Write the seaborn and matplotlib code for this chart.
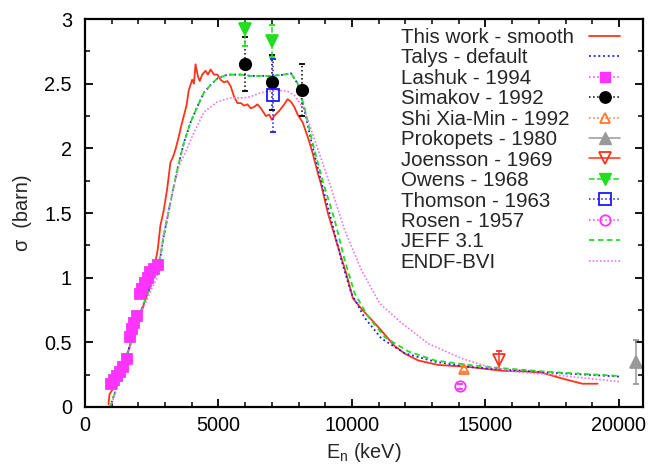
import numpy as np
import pandas as pd
import matplotlib
matplotlib.use("Agg")
import matplotlib.pyplot as plt
import seaborn as sns
from matplotlib.lines import Line2D
from matplotlib.transforms import Bbox
from matplotlib.ticker import MultipleLocator, FuncFormatter

# ---------------- data ----------------
work_E = [880, 920, 1066, 1317, 1631, 1882, 2133, 2384, 2600, 2722, 2822, 2948, 3074, 3199, 3290,
          3387, 3512, 3600, 3700, 3800, 3888, 4013, 4080, 4140, 4226, 4300, 4390, 4516, 4603, 4705,
          4830, 4956, 5081, 5205, 5332, 5457, 5582, 5708, 5834, 5960, 6085, 6210, 6335, 6461, 6586,
          6775, 6900, 7000, 7087, 7275, 7463, 7589, 7715, 7840, 7966, 8154, 8342, 8530, 8718, 8845,
          9096, 9473, 9785, 10036, 10350, 10975, 11603, 12000, 12480, 13236, 14366, 15620, 16500,
          17125, 17877, 18630, 19195]
work_s = [0.02, 0.10, 0.145, 0.26, 0.44, 0.60, 0.75, 0.905, 1.08, 1.215, 1.40, 1.52, 1.68, 1.89, 1.93,
          1.99, 2.09, 2.17, 2.25, 2.33, 2.45, 2.53, 2.50, 2.65, 2.56, 2.52, 2.57, 2.60, 2.57, 2.61,
          2.57, 2.57, 2.53, 2.51, 2.52, 2.48, 2.40, 2.35, 2.35, 2.33, 2.34, 2.31, 2.32, 2.34, 2.31,
          2.25, 2.26, 2.22, 2.25, 2.29, 2.34, 2.38, 2.36, 2.32, 2.26, 2.20, 2.09, 1.96, 1.81, 1.72,
          1.50, 1.24, 1.03, 0.84, 0.76, 0.62, 0.47, 0.41, 0.36, 0.325, 0.31, 0.28, 0.275,
          0.265, 0.22, 0.18, 0.18]

talys_E = [940, 1250, 1631, 2006, 2510, 2822, 2948, 3199, 3450, 3700, 3952, 4203, 4453, 4705, 4956,
           5332, 5834, 6210, 6963, 7463, 7715, 7966, 8216, 8468, 8718, 8900, 9221, 9597, 9973,
           10474, 11100, 11980, 13110, 14366, 15620, 17500, 20010]
talys_s = [0.0, 0.19, 0.44, 0.70, 0.96, 1.16, 1.32, 1.58, 1.83, 2.04, 2.20, 2.32, 2.43, 2.49, 2.54,
           2.57, 2.57, 2.56, 2.56, 2.57, 2.58, 2.50, 2.30, 2.06, 1.85, 1.70, 1.45, 1.14, 0.88,
           0.69, 0.53, 0.415, 0.35, 0.31, 0.29, 0.265, 0.235]

jeff_E = [940, 1250, 1631, 2006, 2510, 2822, 2948, 3199, 3450, 3700, 3952, 4203, 4453, 4705, 4956,
          5332, 5834, 6210, 6963, 7463, 7715, 7966, 8216, 8468, 8718, 8900, 9346, 9722, 10098,
          10600, 11227, 12107, 13110, 14366, 15620, 17500, 20010]
jeff_s = [0.0, 0.19, 0.44, 0.70, 0.96, 1.16, 1.32, 1.58, 1.83, 2.04, 2.20, 2.32, 2.43, 2.49, 2.54,
          2.57, 2.57, 2.56, 2.56, 2.57, 2.58, 2.50, 2.32, 2.09, 1.89, 1.75, 1.45, 1.14, 0.88,
          0.70, 0.54, 0.43, 0.36, 0.325, 0.30, 0.27, 0.24]

endf_E = [960, 1631, 2006, 2510, 2697, 2885, 3074, 3262, 3512, 3826, 4076, 4453, 4956, 5457, 5959,
          6210, 6586, 7213, 7589, 7840, 8216, 8593, 9096, 9722, 10350, 11040, 11855, 12857, 14114,
          15118, 16247, 17500, 20010]
endf_s = [0.0, 0.42, 0.68, 0.92, 1.00, 1.27, 1.47, 1.65, 1.86, 2.00, 2.12, 2.28, 2.36, 2.39, 2.39,
          2.40, 2.43, 2.45, 2.44, 2.41, 2.30, 2.07, 1.77, 1.37, 1.06, 0.80, 0.65, 0.49, 0.375,
          0.31, 0.27, 0.25, 0.196]

lashuk_E = [967, 1070, 1180, 1300, 1420, 1556, 1670, 1750, 1850, 1932, 2044, 2150, 2250, 2350,
            2450, 2600, 2720]
lashuk_s = [0.18, 0.21, 0.24, 0.27, 0.31, 0.37, 0.54, 0.60, 0.65, 0.70, 0.87, 0.91, 0.96, 1.00,
            1.04, 1.07, 1.10]
lashuk_err = [0.02] * 17

simakov_E = [5984, 7000, 8117]
simakov_s = [2.65, 2.51, 2.45]
simakov_err = [0.21, 0.21, 0.20]

shi_E = [14213]
shi_s = [0.29]
shi_err = [0.02]

prokopets_E = [20620]
prokopets_s = [0.345]
prokopets_err = [0.17]

joensson_E = [15519]
joensson_s = [0.36]
joensson_err = [0.075]

owens_E = [5997, 6988]
owens_s = [2.92, 2.83]
owens_err = [0.13, 0.12]

thomson_E = [7025]
thomson_s = [2.41]
thomson_err = [0.28]

rosen_E = [14052]
rosen_s = [0.16]
rosen_err = [0.02]

legend_labels = ["This work - smooth", "Talys - default", "Lashuk - 1994", "Simakov - 1992",
                 "Shi Xia-Min - 1992", "Prokopets - 1980", "Joensson - 1969", "Owens - 1968",
                 "Thomson - 1963", "Rosen - 1957", "JEFF 3.1", "ENDF-BVI"]

# ---------------- style ----------------
sns.set_theme(style="ticks")
plt.rcParams["font.family"] = ["Liberation Sans", "DejaVu Sans"]
plt.rcParams["mathtext.fontset"] = "custom"
plt.rcParams["mathtext.rm"] = "Liberation Sans"
plt.rcParams["mathtext.it"] = "Liberation Sans:italic"
plt.rcParams["axes.linewidth"] = 1.5
FS = 14.3
FS_LEG = 14.8

C_RED = "#ff3319"
C_BLUE = "#1a1aff"
C_MAG = "#ff33ff"
C_ORANGE = "#ff7733"
C_GRAY = "#999999"
C_GREEN = "#22dd22"
C_ENDF = "#ee77ee"

fig = plt.figure(figsize=(6.5, 4.68), dpi=100)
ax = fig.add_axes([85 / 650, 61 / 468, 558 / 650, 388 / 468])

# curves
sns.lineplot(x=work_E, y=work_s, ax=ax, color=C_RED, lw=1.3, estimator=None, sort=False)
sns.lineplot(x=talys_E, y=talys_s, ax=ax, color=C_BLUE, lw=1.3, linestyle=(0, (1, 1.6)),
             estimator=None, sort=False)


def pts(E, s, err, color, marker, ms, filled, ls):
    mfc = color if filled else "none"
    d, caps, bars = ax.errorbar(E, s, yerr=err, fmt=marker, ms=ms, mfc=mfc, mec=color,
                                mew=1.3, color=color, ecolor=color, elinewidth=1.1,
                                capsize=2.2, capthick=1.1)
    for b in bars:
        b.set_linestyle(ls)


pts(lashuk_E, lashuk_s, lashuk_err, C_MAG, "s", 7.2, True, ":")
pts(simakov_E, simakov_s, simakov_err, "black", "o", 8.2, True, ":")
pts(shi_E, shi_s, shi_err, C_ORANGE, "^", 7.5, False, ":")
pts(prokopets_E, prokopets_s, prokopets_err, C_GRAY, "^", 8, True, "-")
pts(joensson_E, joensson_s, joensson_err, C_RED, "v", 8, False, "-")
pts(owens_E, owens_s, owens_err, C_GREEN, "v", 8.5, True, "--")
pts(thomson_E, thomson_s, thomson_err, C_BLUE, "s", 8.5, False, ":")
pts(rosen_E, rosen_s, rosen_err, C_MAG, "o", 7.5, False, ":")

sns.lineplot(x=jeff_E, y=jeff_s, ax=ax, color=C_GREEN, lw=1.3, linestyle=(0, (3, 2)),
             estimator=None, sort=False)
sns.lineplot(x=endf_E, y=endf_s, ax=ax, color=C_ENDF, lw=1.2, linestyle=(0, (1, 1.2)),
             estimator=None, sort=False)

# axes
ax.set_xlim(0, 20900)
ax.set_ylim(0, 3)
ax.xaxis.set_major_locator(MultipleLocator(5000))
ax.xaxis.set_minor_locator(MultipleLocator(1000))
ax.yaxis.set_major_locator(MultipleLocator(0.5))
ax.yaxis.set_minor_locator(MultipleLocator(0.25))
ax.xaxis.set_major_formatter(FuncFormatter(lambda v, p: f"{v:g}"))
ax.yaxis.set_major_formatter(FuncFormatter(lambda v, p: f"{v:g}"))
ax.tick_params(which="both", direction="in", top=True, right=True, colors="black")
ax.tick_params(which="major", length=5.8, width=1.3, labelsize=FS)
ax.tick_params(which="minor", length=3.4, width=1.1)
ax.tick_params(axis="x", which="major", pad=6.5)
ax.tick_params(axis="y", which="major", pad=9.4)
for sp in ax.spines.values():
    sp.set_color("black")
    sp.set_linewidth(1.6)
ax.set_xlabel(r"E$_\mathrm{n}$ (keV)", fontsize=FS, labelpad=4)
ax.set_ylabel("σ  (barn)", fontsize=FS, labelpad=9)

# legend
handles = [
    Line2D([], [], color=C_RED, lw=1.3),
    Line2D([], [], color=C_BLUE, lw=1.3, ls=(0, (1, 1.6))),
    Line2D([], [], color=C_MAG, lw=1.1, ls=":", marker="s", ms=7.2, mfc=C_MAG, mec=C_MAG),
    Line2D([], [], color="black", lw=1.1, ls=":", marker="o", ms=8.2, mfc="black", mec="black"),
    Line2D([], [], color=C_ORANGE, lw=1.1, ls=":", marker="^", ms=7.5, mfc="none", mec=C_ORANGE, mew=1.3),
    Line2D([], [], color=C_GRAY, lw=1.1, ls="-", marker="^", ms=8, mfc=C_GRAY, mec=C_GRAY),
    Line2D([], [], color=C_RED, lw=1.1, ls="-", marker="v", ms=8, mfc="none", mec=C_RED, mew=1.3),
    Line2D([], [], color=C_GREEN, lw=1.1, ls="--", marker="v", ms=8.5, mfc=C_GREEN, mec=C_GREEN),
    Line2D([], [], color=C_BLUE, lw=1.1, ls=":", marker="s", ms=8.5, mfc="none", mec=C_BLUE, mew=1.3),
    Line2D([], [], color=C_MAG, lw=1.1, ls=":", marker="o", ms=7.5, mfc="none", mec=C_MAG, mew=1.3),
    Line2D([], [], color=C_GREEN, lw=1.3, ls=(0, (3, 2))),
    Line2D([], [], color=C_ENDF, lw=1.2, ls=(0, (1, 1.2))),
]
leg = ax.legend(handles, legend_labels, loc="upper right",
                bbox_to_anchor=(620 / 650, 1 - 28 / 468), bbox_transform=fig.transFigure,
                frameon=False, markerfirst=False, handlelength=1.5, handletextpad=0.75,
                labelspacing=0.07, borderpad=0, borderaxespad=0, fontsize=FS_LEG, numpoints=1)

# make the text column left aligned (gnuplot style key)
col = leg._legend_handle_box.get_children()[0]
tas = [it.get_children()[0] for it in col.get_children()]
orig_bb = [ta.get_bbox for ta in tas]


def make_bb(og):
    def gb(renderer):
        bb = og(renderer)
        W = max(o(renderer).width for o in orig_bb)
        return Bbox.from_bounds(bb.x0, bb.y0, W, bb.height)
    return gb


for ta, og in zip(tas, orig_bb):
    ta.get_bbox = make_bb(og)

fig.savefig("out.png", dpi=100)
